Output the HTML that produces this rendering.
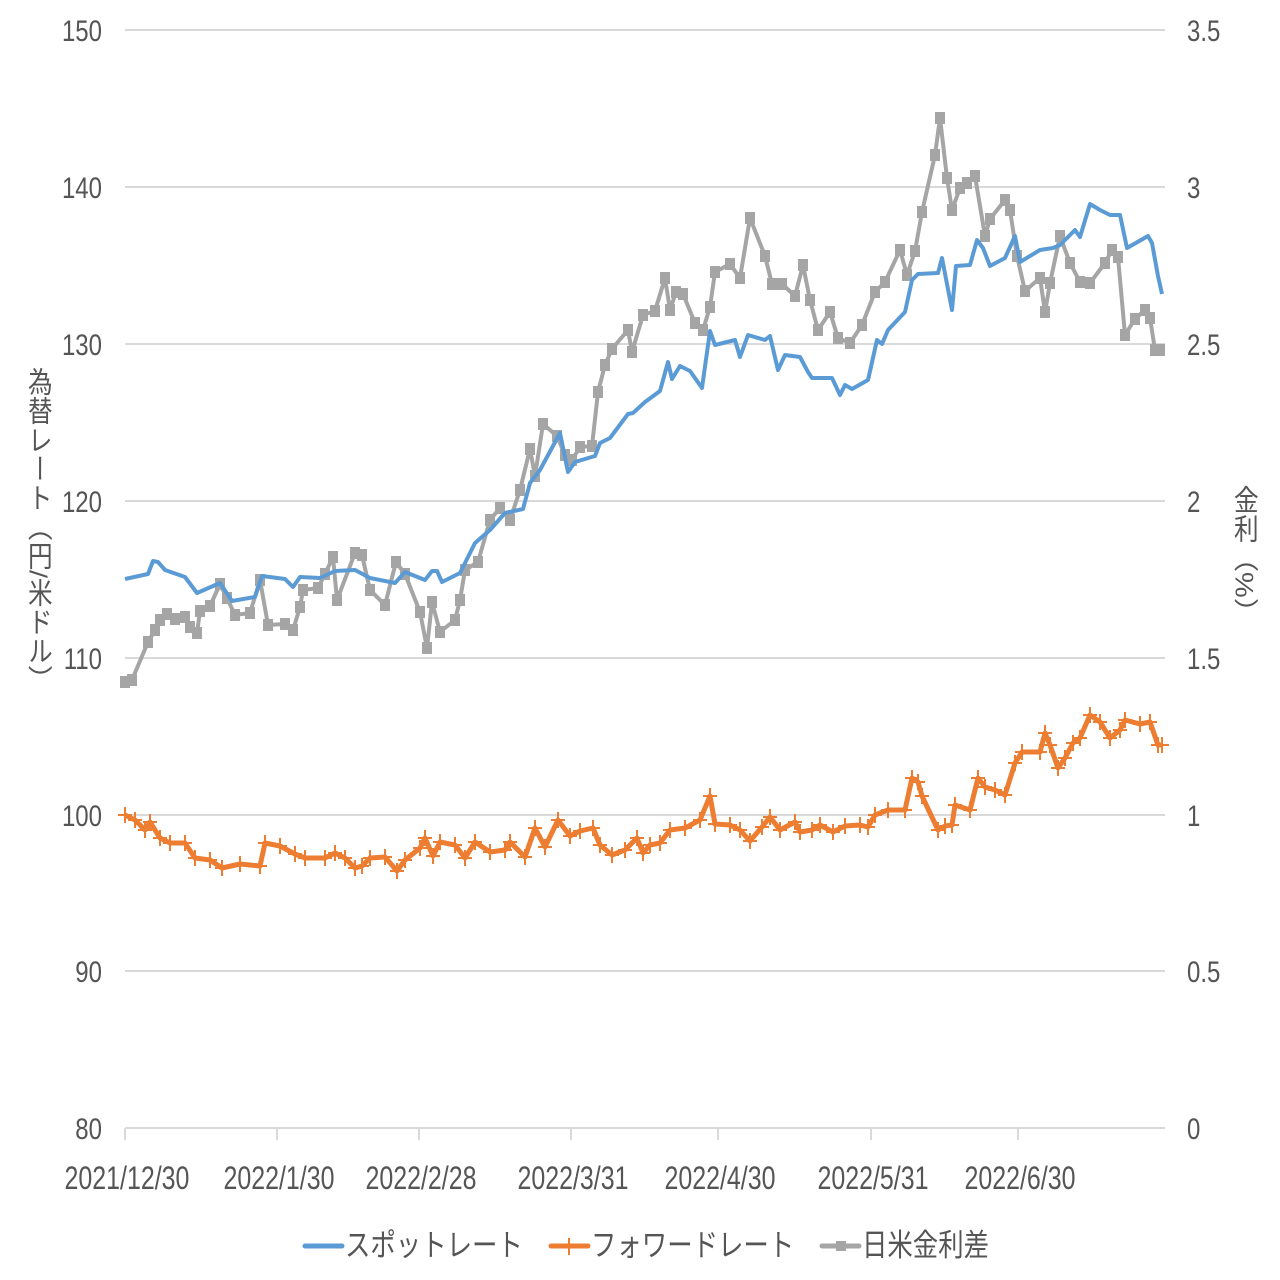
<!DOCTYPE html>
<html><head><meta charset="utf-8"><style>
html,body{margin:0;padding:0;background:#fff;width:1280px;height:1280px;overflow:hidden}
svg text{font-family:"Liberation Sans","Noto Sans CJK JP",sans-serif;fill:#555}
</style></head><body>
<svg id="s" width="1280" height="1280" xmlns="http://www.w3.org/2000/svg">
<g stroke="#d9d9d9" stroke-width="2">
<line x1="125" x2="1165" y1="30" y2="30"/><line x1="125" x2="1165" y1="187" y2="187"/>
<line x1="125" x2="1165" y1="344" y2="344"/><line x1="125" x2="1165" y1="501" y2="501"/>
<line x1="125" x2="1165" y1="658" y2="658"/><line x1="125" x2="1165" y1="815" y2="815"/>
<line x1="125" x2="1165" y1="971" y2="971"/><line x1="125" x2="1165" y1="1128" y2="1128"/>
<line x1="125" x2="125" y1="1128" y2="1140"/><line x1="277" x2="277" y1="1128" y2="1140"/>
<line x1="419" x2="419" y1="1128" y2="1140"/><line x1="571" x2="571" y1="1128" y2="1140"/>
<line x1="718" x2="718" y1="1128" y2="1140"/><line x1="871" x2="871" y1="1128" y2="1140"/>
<line x1="1018" x2="1018" y1="1128" y2="1140"/>
</g>
<g font-size="30" text-anchor="end">
<text x="102" y="41" transform="translate(102 0) scale(0.8 1) translate(-102 0)">150</text>
<text x="102" y="198" transform="translate(102 0) scale(0.8 1) translate(-102 0)">140</text>
<text x="102" y="355" transform="translate(102 0) scale(0.8 1) translate(-102 0)">130</text>
<text x="102" y="512" transform="translate(102 0) scale(0.8 1) translate(-102 0)">120</text>
<text x="102" y="669" transform="translate(102 0) scale(0.8 1) translate(-102 0)">110</text>
<text x="102" y="826" transform="translate(102 0) scale(0.8 1) translate(-102 0)">100</text>
<text x="102" y="982" transform="translate(102 0) scale(0.8 1) translate(-102 0)">90</text>
<text x="102" y="1139" transform="translate(102 0) scale(0.8 1) translate(-102 0)">80</text>
</g>
<g font-size="30" text-anchor="start">
<text x="1187" y="41" transform="translate(1187 0) scale(0.8 1) translate(-1187 0)">3.5</text>
<text x="1187" y="198" transform="translate(1187 0) scale(0.8 1) translate(-1187 0)">3</text>
<text x="1187" y="355" transform="translate(1187 0) scale(0.8 1) translate(-1187 0)">2.5</text>
<text x="1187" y="512" transform="translate(1187 0) scale(0.8 1) translate(-1187 0)">2</text>
<text x="1187" y="669" transform="translate(1187 0) scale(0.8 1) translate(-1187 0)">1.5</text>
<text x="1187" y="826" transform="translate(1187 0) scale(0.8 1) translate(-1187 0)">1</text>
<text x="1187" y="982" transform="translate(1187 0) scale(0.8 1) translate(-1187 0)">0.5</text>
<text x="1187" y="1139" transform="translate(1187 0) scale(0.8 1) translate(-1187 0)">0</text>
</g>
<g font-size="32" text-anchor="middle">
<text x="127" y="1189" transform="translate(127 0) scale(0.78 1) translate(-127 0)">2021/12/30</text>
<text x="279" y="1189" transform="translate(279 0) scale(0.78 1) translate(-279 0)">2022/1/30</text>
<text x="421" y="1189" transform="translate(421 0) scale(0.78 1) translate(-421 0)">2022/2/28</text>
<text x="573" y="1189" transform="translate(573 0) scale(0.78 1) translate(-573 0)">2022/3/31</text>
<text x="720" y="1189" transform="translate(720 0) scale(0.78 1) translate(-720 0)">2022/4/30</text>
<text x="873" y="1189" transform="translate(873 0) scale(0.78 1) translate(-873 0)">2022/5/31</text>
<text x="1020" y="1189" transform="translate(1020 0) scale(0.78 1) translate(-1020 0)">2022/6/30</text>
</g>
<text x="38" y="367" font-size="29" style="writing-mode:vertical-rl" transform="translate(38 0) scale(0.85 1) translate(-38 0)">為替レート（円/米ドル）</text>
<text x="1244" y="485" font-size="29" style="writing-mode:vertical-rl" transform="translate(1244 0) scale(0.85 1) translate(-1244 0)">金利（%）</text>
<g id="series"></g>
<g font-size="31">
<line x1="305" x2="342" y1="1246" y2="1246" stroke="#5b9bd5" stroke-width="5" stroke-linecap="round"/>
<text x="345" y="1256" transform="translate(345 0) scale(0.82 1) translate(-345 0)">スポットレート</text>
<line x1="551" x2="588" y1="1246" y2="1246" stroke="#ed7d31" stroke-width="5" stroke-linecap="round"/>
<line x1="569" x2="569" y1="1238" y2="1255" stroke="#ed7d31" stroke-width="2"/>
<text x="591" y="1256" transform="translate(591 0) scale(0.82 1) translate(-591 0)">フォワードレート</text>
<line x1="822" x2="859" y1="1246" y2="1246" stroke="#a5a5a5" stroke-width="5" stroke-linecap="round"/>
<rect x="836" y="1241" width="10" height="10" fill="#a5a5a5"/>
<text x="862" y="1256" transform="translate(862 0) scale(0.82 1) translate(-862 0)">日米金利差</text>
</g>
</svg>
<script>
var spot=[[125,579],[148,574],[153,561],[158,562],[165,570],[185,577],[197,593],[220,583],[232,601],[255,597],[262,576],[285,579],[293,587],[300,577],[320,578],[335,571],[355,570],[370,578],[395,583],[405,572],[425,580],[432,571],[437,571],[442,582],[460,573],[475,543],[490,530],[505,513],[523,509],[530,483],[540,470],[560,433],[568,472],[575,462],[595,456],[600,443],[610,438],[628,414],[633,413],[645,402],[660,391],[668,362],[672,379],[680,366],[690,371],[702,388],[710,331],[715,345],[735,340],[740,357],[748,335],[765,340],[770,336],[778,370],[785,355],[800,357],[808,372],[812,378],[832,378],[840,395],[845,385],[852,389],[868,380],[877,340],[882,344],[888,330],[905,312],[912,280],[918,274],[938,273],[942,258],[952,310],[956,266],[970,265],[977,240],[983,248],[990,266],[1005,258],[1015,236],[1020,262],[1040,250],[1053,248],[1060,245],[1075,230],[1080,237],[1090,204],[1100,210],[1110,215],[1120,215],[1127,248],[1148,236],[1152,243],[1158,276],[1162,294]];
var gray=[[125,682],[132,680],[148,642],[155,630],[160,620],[167,614],[175,619],[185,617],[190,627],[197,633],[200,611],[210,606],[220,584],[227,598],[235,615],[250,613],[260,580],[268,625],[285,624],[293,630],[300,607],[303,590],[318,588],[325,574],[333,557],[337,600],[355,553],[362,555],[370,590],[385,605],[396,562],[405,574],[420,612],[427,648],[432,602],[440,632],[455,620],[460,600],[465,570],[478,562],[490,520],[500,508],[510,520],[520,490],[530,449],[535,476],[543,424],[557,436],[565,455],[572,460],[580,447],[592,446],[598,392],[605,365],[612,349],[628,330],[632,352],[643,315],[655,311],[665,278],[670,310],[676,292],[683,294],[695,323],[703,330],[710,307],[715,272],[730,264],[740,278],[750,218],[765,256],[772,284],[782,284],[795,296],[803,265],[810,300],[818,330],[830,312],[838,338],[850,343],[862,325],[875,292],[885,282],[900,250],[907,275],[915,251],[922,212],[935,155],[940,118],[947,178],[952,210],[960,188],[967,183],[975,176],[985,236],[990,219],[1005,200],[1010,210],[1017,256],[1025,291],[1040,278],[1045,312],[1050,283],[1060,236],[1070,263],[1080,282],[1090,283],[1105,263],[1112,250],[1118,257],[1125,335],[1135,319],[1145,310],[1150,318],[1155,350],[1160,350]];
var org=[[125,815],[135,820],[145,830],[150,822],[160,838],[170,843],[185,843],[195,858],[210,860],[222,868],[240,864],[260,866],[265,843],[280,846],[295,854],[305,858],[325,858],[335,853],[345,858],[355,868],[362,866],[370,858],[385,857],[397,871],[405,860],[420,848],[425,838],[433,856],[440,842],[455,845],[465,858],[475,842],[490,852],[505,850],[510,842],[525,857],[535,828],[545,847],[558,820],[570,836],[580,831],[593,828],[600,845],[612,855],[625,850],[637,838],[643,853],[650,845],[660,843],[670,830],[685,828],[700,820],[710,796],[715,824],[730,825],[740,830],[750,841],[762,827],[770,817],[780,830],[795,822],[800,832],[812,830],[820,825],[833,832],[845,826],[860,825],[868,827],[875,815],[888,810],[905,810],[912,778],[918,782],[922,796],[938,830],[945,826],[952,825],[955,805],[970,810],[978,778],[985,787],[995,790],[1005,795],[1015,763],[1022,752],[1040,752],[1045,733],[1050,745],[1058,768],[1065,758],[1073,743],[1080,738],[1090,715],[1100,722],[1110,738],[1120,730],[1125,720],[1140,724],[1150,722],[1158,745],[1162,745]];
var NS="http://www.w3.org/2000/svg",g=document.getElementById("series");
function pl(p,c,w){var e=document.createElementNS(NS,"polyline");e.setAttribute("points",p.map(a=>a.join(",")).join(" "));e.setAttribute("fill","none");e.setAttribute("stroke",c);e.setAttribute("stroke-width",w);e.setAttribute("stroke-linejoin","round");g.appendChild(e);}
pl(org,"#ed7d31",5);
org.forEach(function(a){var e=document.createElementNS(NS,"path");e.setAttribute("d","M"+(a[0]-7)+" "+a[1]+"h14M"+a[0]+" "+(a[1]-8)+"v16");e.setAttribute("stroke","#ed7d31");e.setAttribute("stroke-width","2");g.appendChild(e);});
pl(gray,"#a5a5a5",4);
gray.forEach(function(a){var e=document.createElementNS(NS,"rect");e.setAttribute("x",a[0]-5);e.setAttribute("y",a[1]-6);e.setAttribute("width",10);e.setAttribute("height",12);e.setAttribute("fill","#a5a5a5");g.appendChild(e);});
pl(spot,"#5b9bd5",4);
</script>
</body></html>
